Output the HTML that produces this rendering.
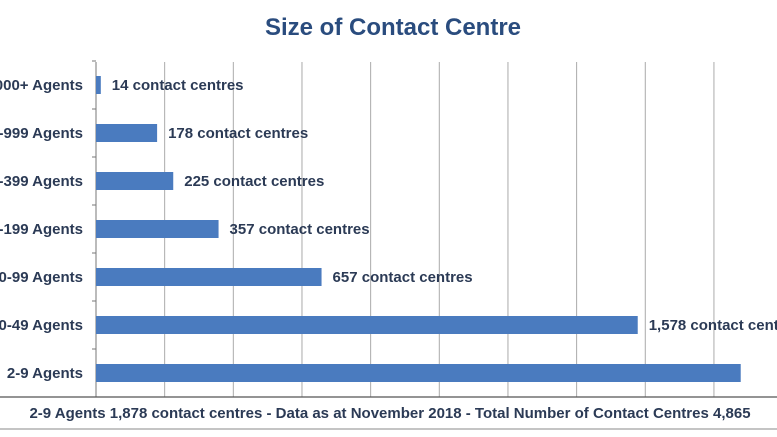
<!DOCTYPE html>
<html><head><meta charset="utf-8"><style>
html,body{margin:0;padding:0;background:#fff;}
body{width:777px;height:437px;overflow:hidden;position:relative;font-family:"Liberation Sans",sans-serif;}
svg{position:absolute;left:0;top:0;}
</style></head><body>
<svg width="777" height="437">
<text x="393" y="35" text-anchor="middle" font-size="24" font-weight="bold" fill="#2a4c7e">Size of Contact Centre</text>
<g id="grid"></g>
<g id="bars"></g>
<line x1="0" y1="397" x2="777" y2="397" stroke="#555" stroke-width="1.2"/>
<line x1="0" y1="429" x2="777" y2="429" stroke="#888" stroke-width="1"/>
<text x="390" y="418" text-anchor="middle" font-size="15" font-weight="bold" fill="#2b3a55">2-9 Agents 1,878 contact centres - Data as at November 2018 - Total Number of Contact Centres 4,865</text>
</svg>
<script>
const categories=["1000+ Agents","500-999 Agents","200-399 Agents","100-199 Agents","50-99 Agents","10-49 Agents","2-9 Agents"];
const values=[14,178,225,357,657,1578,1878];
const valueLabels=["14 contact centres","178 contact centres","225 contact centres","357 contact centres","657 contact centres","1,578 contact centres",""];
const gridTicks=[0,200,400,600,800,1000,1200,1400,1600,1800,2000];
const NS="http://www.w3.org/2000/svg";
const x0=96,scale=0.3433,top0=62,bottom=397,rowTop=61,rowH=48,barH=18;
const xs=v=>x0+v*scale;
const yc=i=>rowTop+rowH*i+rowH/2;
function mk(t,a,p){const e=document.createElementNS(NS,t);for(const k in a)e.setAttribute(k,a[k]);p.appendChild(e);return e;}
const g=document.getElementById('grid'),b=document.getElementById('bars');
gridTicks.forEach(t=>{const l=mk('line',{x1:xs(t),x2:xs(t),y1:top0,y2:bottom,stroke:t===0?'#777':'#aaa','stroke-width':1},g);

});
categories.forEach((c,i)=>{
 const tk=mk('line',{x1:x0-4,x2:x0,y1:rowTop+rowH*i,y2:rowTop+rowH*i,stroke:'#777'},g);
 
 
 const r=mk('rect',{x:x0,y:yc(i)-barH/2,width:Math.max(values[i]*scale,0),height:barH,fill:'#4a7bbf'},b);
 
 
 const t=mk('text',{x:83,y:yc(i)+5,'text-anchor':'end','font-size':15,'font-weight':'bold',fill:'#2b3a55'},b);
 t.textContent=c;
 
 
 if(valueLabels[i]){const v=mk('text',{x:xs(values[i])+11,y:yc(i)+5,'font-size':15,'font-weight':'bold',fill:'#2b3a55'},b);
 v.textContent=valueLabels[i];
 
 }
});
</script>
</body></html>
